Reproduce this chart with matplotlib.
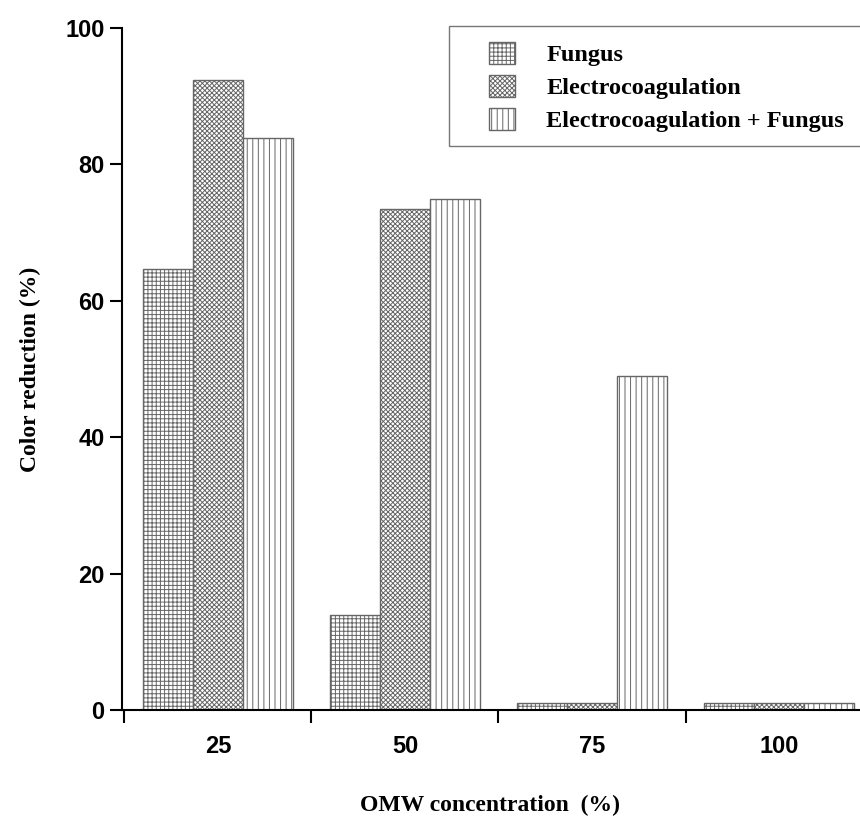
import matplotlib
matplotlib.use("Agg")
import matplotlib.pyplot as plt
from matplotlib.patches import Rectangle
import numpy as np

concentrations = ["25", "50", "75", "100"]
fungus = [64.6, 13.9, 1.0, 1.0]
electro = [92.4, 73.5, 1.0, 1.0]
electro_fungus = [83.9, 74.9, 49.0, 1.0]

W, H = 860, 821
plt.rcParams['hatch.linewidth'] = 0.7
plt.rcParams['hatch.color'] = '#555555'

fig = plt.figure(figsize=(W / 100, H / 100), dpi=100)
ax = fig.add_axes([122 / W, 111 / H, 738 / W, 682 / H])

x = np.arange(len(concentrations))
w = 0.268
series = [
    (fungus, "++++", "Fungus"),
    (electro, "xxxxxxx", "Electrocoagulation"),
    (electro_fungus, "|||", "Electrocoagulation + Fungus"),
]
for i, (vals, hatch, label) in enumerate(series):
    ax.bar(x + (i - 1) * w, vals, w, facecolor="white", edgecolor="#666666",
           hatch=hatch, linewidth=1.0, label=label)

ax.set_xlim(-0.513, 3.433)
ax.set_ylim(0, 100)
ax.set_yticks([0, 20, 40, 60, 80, 100])
ax.set_xticks([-0.5, 0.5, 1.5, 2.5])
ax.set_xticklabels([])
ax.set_xticks(x, minor=True)
ax.set_xticklabels(concentrations, minor=True)
ax.tick_params(axis="x", which="minor", length=0, pad=18)
ax.tick_params(axis="both", which="major", length=9, width=1.5, direction="out")
for lab in ax.get_xticklabels(minor=True) + ax.get_yticklabels():
    lab.set_fontfamily("Liberation Sans")
    lab.set_fontweight("bold")
    lab.set_fontsize(17)

for s in ["top", "right"]:
    ax.spines[s].set_visible(False)
for s in ["left", "bottom"]:
    ax.spines[s].set_linewidth(1.5)

# axis titles
fig.text(30 / W, 1 - 369 / H, "Color reduction (%)", rotation=90, ha="center", va="center",
         fontfamily="Liberation Serif", fontweight="bold", fontsize=17)
fig.text(490 / W, 1 - 805 / H, "OMW concentration  (%)", ha="center", va="center",
         fontfamily="Liberation Serif", fontweight="bold", fontsize=17)

# legend frame + entries
fig.patches.append(Rectangle((449 / W, 1 - 146 / H), 430 / W, 120 / H,
                             transform=fig.transFigure, facecolor="white",
                             edgecolor="#777777", linewidth=1.0, zorder=5))
leg = fig.legend(loc="upper left", bbox_to_anchor=(489 / W, 1 - 42 / H),
                 prop={"family": "Liberation Serif", "weight": "bold", "size": 17.5},
                 frameon=False, handlelength=1.05, handleheight=1.0,
                 handletextpad=1.3, borderpad=0, labelspacing=0.36, borderaxespad=0)
leg.set_zorder(6)

fig.savefig("out.png", dpi=100)
